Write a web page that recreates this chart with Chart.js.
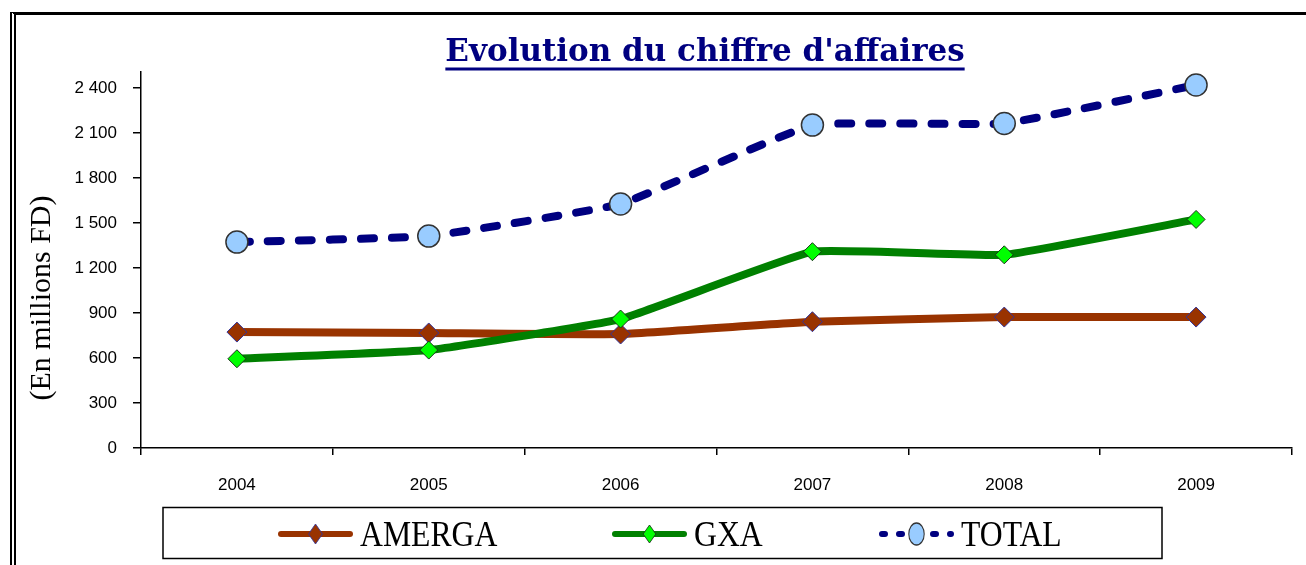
<!DOCTYPE html>
<html>
<head>
<meta charset="utf-8">
<script src="https://cdn.jsdelivr.net/npm/chart.js@4.4.0/dist/chart.umd.min.js"></script>
<style>
  html, body { margin: 0; padding: 0; background: #fff; }
  #wrap { position: relative; width: 1306px; height: 565px; overflow: hidden; }
  #frame { position: absolute; left: 10px; top: 12px; width: 1400px; height: 700px;
           border-left: 6px double #000; border-top: 3px solid #000; pointer-events: none; }
  canvas { position: absolute; left: 0; top: 0; }
</style>
</head>
<body>
<div id="wrap">
  <canvas id="caChart" width="1306" height="565"></canvas>
  <div id="frame"></div>
</div>
<script>
// Données (en millions FD)
const years = ['2004', '2005', '2006', '2007', '2008', '2009'];
const amerga = [773, 767, 760, 842, 873, 873];
const gxa = [595, 653, 860, 1309, 1288, 1524];
const total = [1373, 1413, 1627, 2153, 2164, 2420];
const seriesNames = ['AMERGA', 'GXA', 'TOTAL'];

const chartTitle = "Evolution du chiffre d'affaires";
const axisTitle = '(En millions FD)';

// "2400" -> "2 400"
function formatTick(v) {
    if (v >= 1000) {
        return Math.floor(v / 1000) + ' ' + String(v % 1000).padStart(3, '0');
    }
    return String(v);
}

// Titre souligné + titre de l'axe vertical
const titlePlugin = {
    id: 'underlinedTitle',
    afterDraw(chart) {
        const ctx = chart.ctx;
        ctx.save();
        ctx.font = 'bold 31px "DejaVu Serif"';
        ctx.fillStyle = '#000080';
        ctx.textAlign = 'center';
        ctx.textBaseline = 'alphabetic';
        const cx = 705;
        ctx.fillText(chartTitle, cx, 61);
        const w = ctx.measureText(chartTitle).width;
        ctx.fillRect(cx - w / 2, 67.5, w, 3);
        ctx.restore();

        ctx.save();
        ctx.translate(42, 298);
        ctx.rotate(-Math.PI / 2);
        ctx.font = '30px "Liberation Serif"';
        ctx.fillStyle = '#000';
        ctx.textAlign = 'center';
        ctx.textBaseline = 'middle';
        ctx.fillText(axisTitle, 0, 0);
        ctx.restore();
    }
};

// Légende encadrée en bas
const legendPlugin = {
    id: 'boxedLegend',
    afterDraw(chart) {
        const ctx = chart.ctx;
        const y = 534;
        const starts = [278, 612, 879];
        ctx.save();
        ctx.strokeStyle = '#000';
        ctx.lineWidth = 1.5;
        ctx.strokeRect(163, 507.5, 999, 51);

        chart.data.datasets.forEach((ds, i) => {
            const x1 = starts[i];
            const x2 = x1 + 75;
            ctx.save();
            ctx.strokeStyle = ds.borderColor;
            ctx.lineWidth = 6;
            ctx.lineCap = 'round';
            if (ds.borderDash) ctx.setLineDash([3, 14]);
            ctx.beginPath();
            ctx.moveTo(x1 + 3, y);
            ctx.lineTo(x2 - 3, y);
            ctx.stroke();
            ctx.restore();

            ctx.save();
            ctx.translate((x1 + x2) / 2, y);
            ctx.scale(0.7, 1);
            ctx.fillStyle = ds.pointBackgroundColor;
            ctx.strokeStyle = ds.pointBorderColor;
            ctx.lineWidth = ds.pointBorderWidth;
            Chart.helpers.drawPoint(ctx, {
                pointStyle: ds.pointStyle,
                radius: ds.pointRadius,
                borderWidth: ds.pointBorderWidth,
                rotation: 0
            }, 0, 0);
            ctx.restore();

            ctx.save();
            ctx.translate(x2 + 7, 546);
            ctx.scale(0.88, 1);
            ctx.font = '36px "Liberation Serif"';
            ctx.fillStyle = '#000';
            ctx.textBaseline = 'alphabetic';
            ctx.fillText(ds.label, 0, 0);
            ctx.restore();
        });
        ctx.restore();
    }
};

const ctx = document.getElementById('caChart');

new Chart(ctx, {
    type: 'line',
    data: {
        labels: years,
        datasets: [{
            label: seriesNames[0],
            data: amerga,
            borderColor: '#993300',
            borderWidth: 8,
            pointStyle: 'rectRot',
            pointRadius: 10,
            pointBackgroundColor: '#993300',
            pointBorderColor: '#333399',
            pointBorderWidth: 1,
            tension: 0.1,
            order: 2
        }, {
            label: seriesNames[1],
            data: gxa,
            borderColor: '#008000',
            borderWidth: 8,
            pointStyle: 'rectRot',
            pointRadius: 9,
            pointBackgroundColor: '#00ff00',
            pointBorderColor: '#1a331a',
            pointBorderWidth: 1,
            tension: 0.1,
            order: 1
        }, {
            label: seriesNames[2],
            data: total,
            borderColor: '#000080',
            borderWidth: 8,
            borderDash: [13, 18],
            borderCapStyle: 'round',
            pointStyle: 'circle',
            pointRadius: 11,
            pointBackgroundColor: '#99ccff',
            pointBorderColor: '#333333',
            pointBorderWidth: 1.5,
            tension: 0.1,
            order: 0
        }]
    },
    options: {
        responsive: false,
        animation: false,
        devicePixelRatio: 1,
        layout: {
            padding: { left: 25, right: 14, top: 72, bottom: 62 }
        },
        plugins: {
            legend: { display: false },
            title: { display: false },
            tooltip: { enabled: false }
        },
        scales: {
            x: {
                offset: true,
                afterFit: (scale) => { scale.height = 55; },
                border: { display: true, color: '#000', width: 1.5 },
                grid: { offset: true, drawOnChartArea: false, drawTicks: true, tickLength: 7, color: '#000', lineWidth: 1.5 },
                ticks: {
                    padding: 20,
                    color: '#000',
                    maxRotation: 0,
                    font: { family: 'Liberation Sans', size: 17 }
                }
            },
            y: {
                min: 0,
                max: 2507,
                afterFit: (scale) => { scale.width = 116; },
                border: { display: true, color: '#000', width: 1.5 },
                grid: { drawOnChartArea: false, drawTicks: true, tickLength: 8, color: '#000', lineWidth: 1.5 },
                ticks: {
                    stepSize: 300,
                    includeBounds: false,
                    padding: 16,
                    color: '#000',
                    font: { family: 'Liberation Sans', size: 17 },
                    callback: (v) => formatTick(v)
                }
            }
        }
    },
    plugins: [titlePlugin, legendPlugin]
});
</script>
</body>
</html>
